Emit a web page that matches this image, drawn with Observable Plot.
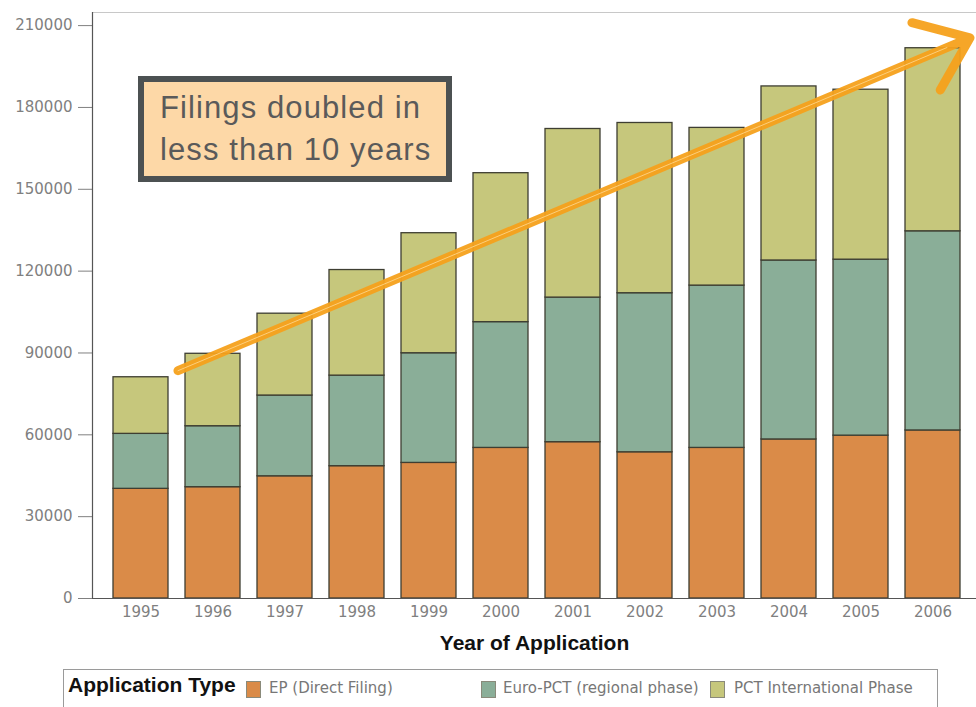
<!DOCTYPE html>
<html>
<head>
<meta charset="utf-8">
<script src="https://cdn.jsdelivr.net/npm/d3@7"></script>
<script src="https://cdn.jsdelivr.net/npm/@observablehq/plot@0.6"></script>
<style>
  body { margin: 0; background: #fff; }
  #wrap { position: relative; width: 976px; height: 707px; overflow: hidden; background: #fff; }
  #chart { position: absolute; left: 0; top: 0; }
  #legend { position: absolute; left: 63px; top: 669px; width: 875px; height: 60px;
            border: 1.5px solid #9a9a9a; box-sizing: border-box; }
  #legend .title { position: absolute; left: 4px; top: 3px; font: bold 21px Arial, "Liberation Sans", sans-serif; color: #111; }
  #legend .sw { position: absolute; top: 11px; width: 15px; height: 17px; box-sizing: border-box; border: 1px solid #8a8a7a; }
  #legend .lbl { position: absolute; top: 9px; font: 15px "DejaVu Sans", sans-serif; color: #777; }
</style>
</head>
<body>
<div id="wrap">
  <div id="chart"></div>
  <div id="legend"></div>
</div>
<script>
// ---- data ----
const years = ["1995","1996","1997","1998","1999","2000","2001","2002","2003","2004","2005","2006"];
const epFiling = [40200, 40800, 44800, 48500, 49700, 55200, 57300, 53600, 55200, 58300, 59700, 61600];
const euroPct  = [20150, 22350, 29600, 33200, 40200, 46100, 53000, 58300, 59500, 65600, 64500, 73000];
const pctIntl  = [20750, 26550, 30000, 38700, 44000, 54600, 61800, 62400, 57800, 63800, 62300, 67100];
const seriesNames  = ["EP (Direct Filing)", "Euro-PCT (regional phase)", "PCT International Phase"];
const seriesColors = ["#DA8B48", "#8AAE98", "#C6C77C"];
const yTicks = [0, 30000, 60000, 90000, 120000, 150000, 180000, 210000];
const yMax = 214800;
const trendLine = [{fromYear: "1995", fromValue: 83500, toYear: "2006", toValue: 205500}];
const noteLines = ["Filings doubled in", "less than 10 years"];
const xTitle = "Year of Application";
const legendTitle = "Application Type";

// ---- table ----
const seriesValues = [epFiling, euroPct, pctIntl];
const rows = [];
years.forEach((y, i) => {
  seriesNames.forEach((s, k) => rows.push({year: y, series: s, value: seriesValues[k][i]}));
});

// left axis line
const leftAxisLine = (index, scales, values, dims) => {
  const g = d3.create("svg:g");
  g.append("line")
    .attr("x1", dims.marginLeft + 0.5).attr("x2", dims.marginLeft + 0.5)
    .attr("y1", dims.marginTop).attr("y2", dims.height - dims.marginBottom)
    .attr("stroke", "#555").attr("stroke-width", 1.2);
  return g.node();
};

// annotation box
const noteBox = (index, scales, values, dims) => {
  const g = d3.create("svg:g");
  g.append("rect")
    .attr("x", 141).attr("y", 79).attr("width", 308).attr("height", 100)
    .attr("fill", "#FDD8A7").attr("stroke", "#4c5152").attr("stroke-width", 6);
  noteLines.forEach((t, i) => {
    g.append("text")
      .attr("x", 160).attr("y", 118 + i * 42)
      .attr("text-anchor", "start")
      .attr("font-family", "Arial, 'Liberation Sans', sans-serif")
      .attr("font-size", 31).attr("letter-spacing", 1.1).attr("fill", "#5a5a5a")
      .text(t);
  });
  return g.node();
};

const chart = Plot.plot({
  width: 976,
  height: 660,
  marginTop: 12,
  marginBottom: 62,
  marginLeft: 92,
  marginRight: 0,
  style: {fontFamily: "'DejaVu Sans', sans-serif", background: "white"},
  x: {type: "band", domain: years, range: [92.6, 980], padding: 0.24},
  y: {domain: [0, yMax]},
  color: {domain: seriesNames, range: seriesColors},
  marks: [
    Plot.frame({stroke: "#c8c8c8"}),
    Plot.barY(rows, {x: "year", y: "value", fill: "series", stroke: "#3e3e32", strokeWidth: 1.3}),
    Plot.axisY({ticks: yTicks, tickFormat: d => String(d), tickSize: 14, tickPadding: 6,
                fontSize: 15, color: "#808080", label: null}),
    Plot.axisX({tickSize: 0, tickPadding: 8, fontSize: 15, color: "#808080", label: null}),
    Plot.ruleY([0], {stroke: "#555", strokeWidth: 1.2}),
    leftAxisLine,
    Plot.text([xTitle], {text: d => d, frameAnchor: "bottom", dy: 51, fontWeight: "bold",
                         fontSize: 21, fill: "#111", fontFamily: "Arial, 'Liberation Sans', sans-serif"}),
    Plot.arrow(trendLine, {x1: "fromYear", y1: "fromValue", x2: "toYear", y2: "toValue", dx: 37,
                           stroke: "#F6A11C", strokeWidth: 9, headLength: 10, headAngle: 75, strokeOpacity: 0.95}),
    Plot.arrow(trendLine, {x1: "fromYear", y1: "fromValue", x2: "toYear", y2: "toValue", dx: 37,
                           stroke: "#FFD890", strokeWidth: 1, headLength: 0, insetEnd: 25, strokeOpacity: 0.8}),
    noteBox
  ]
});
document.getElementById("chart").appendChild(chart);

// ---- legend ----
const legend = document.getElementById("legend");
const t = document.createElement("div");
t.className = "title"; t.textContent = legendTitle; legend.appendChild(t);
const swatchX = [182, 417, 646];
const labelX = [205, 439, 670];
seriesNames.forEach((s, i) => {
  const sw = document.createElement("div");
  sw.className = "sw"; sw.style.left = swatchX[i] + "px"; sw.style.background = seriesColors[i];
  legend.appendChild(sw);
  const l = document.createElement("div");
  l.className = "lbl"; l.style.left = labelX[i] + "px"; l.textContent = s;
  legend.appendChild(l);
});
</script>
</body>
</html>
